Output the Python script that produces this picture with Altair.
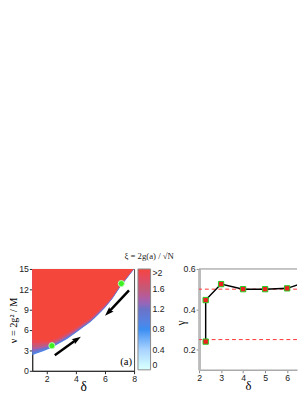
import altair as alt
import pandas as pd

# ---------------- left panel data ----------------
delta_grid = [1.0, 1.5, 2.0, 2.5, 3.0, 3.5, 4.0, 4.5, 5.0, 5.5, 6.0, 6.5, 7.0, 7.5, 8.0]
nu_edge = [2.3, 2.7, 3.1, 3.6, 4.2, 4.85, 5.6, 6.4, 7.2, 8.2, 9.3, 10.6, 12.2, 13.6, 15.0]
nu_red = [4.6, 4.5, 4.4, 4.7, 5.2, 5.8, 6.4, 7.1, 7.8, 8.8, 9.8, 11.0, 12.6, 13.9, 15.2]
nu_top = 15.0

band_frac = [0.0, 0.08, 0.2, 0.35, 0.5, 0.65, 0.8, 1.0]
band_xi = [0.9, 1.05, 1.25, 1.45, 1.6, 1.75, 1.9, 2.0]

green_delta = [2.35, 7.12]
green_nu = [3.7, 12.85]

arrow_x1 = [2.55, 7.65]
arrow_y1 = [2.3, 11.85]
arrow_x2 = [4.05, 6.25]
arrow_y2 = [4.6, 8.65]

label_text = ["(a)"]
label_delta = [7.45]
label_nu = [1.3]

xi_ticks = [0, 0.4, 0.8, 1.2, 1.6, 2]
xi_colors = ["#ffffff", "#a9d3ff", "#3b8ef2", "#6a72c8", "#c25a78", "#f5463c"]

# ---------------- right panel data ----------------
delta_r = [2.3, 2.3, 3, 4, 5, 6, 7]
gamma_r = [0.24, 0.446, 0.525, 0.5, 0.5, 0.504, 0.54]
ref_lines = [0.5, 0.25]
gamma_top = [0.6]

# ---------------- build tables ----------------
rows = []
for b, (f, xi) in enumerate(zip(band_frac, band_xi)):
    for d, e, r in zip(delta_grid, nu_edge, nu_red):
        rows.append({"band": b, "delta": d, "lo": e + f * (r - e), "hi": nu_top, "xi": xi})
bands = pd.DataFrame(rows)

greens = pd.DataFrame({"delta": green_delta, "nu": green_nu})
arrows = pd.DataFrame({"x1": arrow_x1, "y1": arrow_y1, "x2": arrow_x2, "y2": arrow_y2})
labels = pd.DataFrame({"t": label_text, "delta": label_delta, "nu": label_nu})
right = pd.DataFrame({"delta": delta_r, "gamma": gamma_r, "i": list(range(len(delta_r)))})
refs = pd.DataFrame({"g": ref_lines})
topline = pd.DataFrame({"g": gamma_top})

SERIF = "Liberation Serif"
SANS = "Liberation Sans"

LW = 105  # left plot width

xsc = alt.Scale(domain=[1, 8], nice=False, zero=False)
ysc = alt.Scale(domain=[0, 15], nice=False, zero=False)

common = dict(labelOverlap=False, labelFlush=False, labelFont=SANS, labelFontSize=9,
              labelColor="#222", labelPadding=1, tickSize=3, grid=False, labelSeparation=0)

xax = alt.Axis(values=[2, 4, 6, 8], title="δ", titleFont=SERIF, titleFontSize=14,
               titleFontWeight="normal", titlePadding=-4, domainColor="#222",
               tickColor="#222", **common)
yax = alt.Axis(values=[0, 3, 6, 9, 12, 15], title="ν = 2g² / M", titleFont=SERIF,
               titleFontSize=10.5, titleFontWeight="normal", titlePadding=0,
               domainColor="#222", tickColor="#222", **common)

color = alt.Color(
    "xi:Q",
    scale=alt.Scale(domain=xi_ticks, range=xi_colors),
    legend=alt.Legend(
        title=None, orient="none", legendX=LW + 4, legendY=0, direction="vertical",
        gradientLength=104, gradientThickness=13, values=xi_ticks,
        labelExpr="datum.value >= 2 ? '>2' : (datum.value == 0 ? '0' : format(datum.value, '.1f'))",
        labelFont=SANS, labelFontSize=9, labelColor="#222", labelOverlap=False,
        gradientStrokeColor="#888", gradientStrokeWidth=1,
    ),
)

layers = []
for b in range(len(band_frac)):
    layers.append(
        alt.Chart(bands).transform_filter(alt.datum.band == b)
        .mark_area(interpolate="monotone", clip=True, opacity=1)
        .encode(
            x=alt.X("delta:Q", scale=xsc, axis=xax),
            y=alt.Y("lo:Q", scale=ysc, axis=yax),
            y2="hi:Q",
            color=color,
        )
    )

arrow_lines = alt.Chart(arrows).mark_rule(color="black", strokeWidth=2.5).encode(
    x=alt.X("x1:Q", scale=xsc, axis=xax), y=alt.Y("y1:Q", scale=ysc, axis=yax), x2="x2:Q", y2="y2:Q"
)
head_path = "M0,-1L0.6,0.8L0,0.45L-0.6,0.8Z"
head1 = alt.Chart(arrows.iloc[[0]]).mark_point(
    shape=head_path, size=110, filled=True, color="black", opacity=1, angle=57
).encode(x=alt.X("x2:Q", scale=xsc, axis=xax), y=alt.Y("y2:Q", scale=ysc, axis=yax))
head2 = alt.Chart(arrows.iloc[[1]]).mark_point(
    shape=head_path, size=110, filled=True, color="black", opacity=1, angle=225
).encode(x=alt.X("x2:Q", scale=xsc, axis=xax), y=alt.Y("y2:Q", scale=ysc, axis=yax))

green_pts = alt.Chart(greens).mark_circle(
    size=40, color="#3df022", opacity=1, stroke="#b8ffb0", strokeWidth=1
).encode(x=alt.X("delta:Q", scale=xsc, axis=xax), y=alt.Y("nu:Q", scale=ysc, axis=yax))

tag = alt.Chart(labels).mark_text(font=SERIF, fontSize=11, color="black").encode(
    x=alt.X("delta:Q", scale=xsc, axis=xax), y=alt.Y("nu:Q", scale=ysc, axis=yax), text="t:N"
)

left = alt.layer(*layers, arrow_lines, head1, head2, green_pts, tag).properties(
    width=LW, height=105,
    title=alt.TitleParams("ξ = 2g(a) / √N", anchor="end", frame="group", dx=41, font=SERIF,
                          fontSize=9, fontWeight="normal", offset=4, color="#222"),
    view=alt.ViewBackground(stroke="#444"),
)

# ---------------- right panel ----------------
rx = alt.Scale(domain=[2, 6.45], nice=False, zero=False)
ry = alt.Scale(domain=[0.1, 0.6], nice=False, zero=False)
rxax = alt.Axis(values=[2, 3, 4, 5, 6], title="δ", titleFont=SERIF, titleFontSize=13,
                titleFontWeight="normal", titlePadding=-3, domainColor="#aaa",
                domainWidth=1.5, tickColor="#888", **common)
ryax = alt.Axis(values=[0.2, 0.4, 0.6], title="γ", titleFont=SERIF, titleFontSize=12,
                titleFontWeight="normal", titleX=-12, titleY=55, domainColor="#bbb",
                domainWidth=3, tickColor="#888", **common)

top_rule = alt.Chart(topline).mark_rule(color="#888", strokeWidth=1).encode(
    y=alt.Y("g:Q", scale=ry, axis=ryax)
)
dash = alt.Chart(refs).mark_rule(color="#ff3030", strokeDash=[4, 3], strokeWidth=1).encode(
    y=alt.Y("g:Q", scale=ry, axis=ryax)
)
line = alt.Chart(right).mark_line(color="black", strokeWidth=1.5, clip=True).encode(
    x=alt.X("delta:Q", scale=rx, axis=rxax), y=alt.Y("gamma:Q", scale=ry, axis=ryax), order="i:Q"
)
sq = alt.Chart(right).mark_square(
    size=30, color="#ee2020", stroke="#22cc22", strokeWidth=1, opacity=1, clip=True
).encode(x=alt.X("delta:Q", scale=rx, axis=rxax), y=alt.Y("gamma:Q", scale=ry, axis=ryax))

rchart = alt.layer(top_rule, dash, line, sq).properties(
    width=101, height=104, view=alt.ViewBackground(stroke=None)
)

chart = alt.hconcat(left, rchart, spacing=0).resolve_scale(
    color="independent", x="independent", y="independent"
).properties(padding={"left": 0, "top": 245, "right": 0, "bottom": 0}).configure_view(
    strokeWidth=1
).configure_axis(labelOverlap=False, labelFlush=False, labelSeparation=0)

chart.save("out.html", embed_options={"renderer": "svg", "actions": False})
